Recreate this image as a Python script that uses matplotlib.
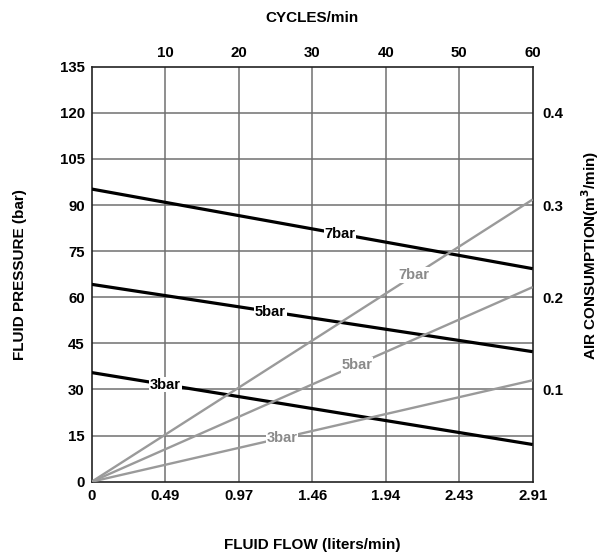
import matplotlib
matplotlib.use("Agg")
import matplotlib.pyplot as plt
import numpy as np

plt.rcParams['font.family'] = ['Liberation Sans', 'DejaVu Sans']
plt.rcParams['font.weight'] = 'bold'

# Data
cycles_ends = [0, 60]
pressure_7bar = [95.2, 69.3]
pressure_5bar = [64.2, 42.3]
pressure_3bar = [35.5, 12.1]
air_7bar = [0.0, 0.306]
air_5bar = [0.0, 0.211]
air_3bar = [0.0, 0.110]

cycle_ticks = [10, 20, 30, 40, 50, 60]
flow_tick_pos = [0, 10, 20, 30, 40, 50, 60]
flow_tick_labels = ['0', '0.49', '0.97', '1.46', '1.94', '2.43', '2.91']
pressure_ticks = [0, 15, 30, 45, 60, 75, 90, 105, 120, 135]
air_ticks = [0.1, 0.2, 0.3, 0.4]

# label positions along lines (in cycles)
pressure_label_x = {'7bar': 33.8, '5bar': 24.3, '3bar': 10.0}
air_label_x = {'7bar': 43.9, '5bar': 36.1, '3bar': 25.9}

fig = plt.figure(figsize=(6.08, 5.53), dpi=100)
ax = fig.add_axes([0.1508, 0.1289, 0.7253, 0.7505])
ax.set_xlim(0, 60)
ax.set_ylim(0, 135)

grid_c = '#707070'
for x in flow_tick_pos[1:-1]:
    ax.axvline(x, color=grid_c, lw=1.1, zorder=1)
for y in pressure_ticks[1:-1]:
    ax.axhline(y, color=grid_c, lw=1.1, zorder=1)

for s in ax.spines.values():
    s.set_linewidth(1.2)
    s.set_color('#222222')

tick_fs = 10.8
ax.set_xticks(flow_tick_pos)
ax.set_xticklabels(flow_tick_labels)
ax.set_yticks(pressure_ticks)
ax.tick_params(length=0, labelsize=tick_fs, pad=5)
for lab in ax.get_xticklabels() + ax.get_yticklabels():
    lab.set_fontweight('bold')

# Air consumption axis
ax2 = ax.twinx()
ax2.set_ylim(0, 0.45)
ax2.set_yticks(air_ticks)
ax2.set_yticklabels([f'{v:.1f}' for v in air_ticks])
ax2.tick_params(length=0, labelsize=tick_fs, pad=7)
for lab in ax2.get_yticklabels():
    lab.set_fontweight('bold')
for s in ax2.spines.values():
    s.set_visible(False)

# Top cycles axis
axt = ax.secondary_xaxis('top')
axt.set_xticks(cycle_ticks)
axt.tick_params(length=0, labelsize=tick_fs, pad=5)
for lab in axt.get_xticklabels():
    lab.set_fontweight('bold')
axt.spines['top'].set_visible(False)

gray = '#9a9a9a'
for name, vals in [('7bar', air_7bar), ('5bar', air_5bar), ('3bar', air_3bar)]:
    ax2.plot(cycles_ends, vals, color=gray, lw=1.7, zorder=2, solid_capstyle='butt')
    lx = air_label_x[name]
    ly = np.interp(lx, cycles_ends, vals)
    ax2.text(lx, ly, name, color='#8a8a8a', fontsize=10.5, fontweight='bold',
             ha='center', va='center', zorder=4,
             bbox=dict(facecolor='white', edgecolor='none', pad=0.6))

for name, vals in [('7bar', pressure_7bar), ('5bar', pressure_5bar), ('3bar', pressure_3bar)]:
    ax.plot(cycles_ends, vals, color='black', lw=2.3, zorder=3, solid_capstyle='butt')
    lx = pressure_label_x[name]
    ly = np.interp(lx, cycles_ends, vals)
    ax2.text(lx, ly / 300.0, name, color='black', fontsize=10.5, fontweight='bold',
             ha='center', va='center', zorder=5,
             bbox=dict(facecolor='white', edgecolor='none', pad=0.6))

title_fs = 11
fig.text(312 / 608, 1 - 18 / 553, 'CYCLES/min', ha='center', va='center',
         fontsize=title_fs, fontweight='bold')
fig.text(312 / 608, 1 - 545 / 553, 'FLUID FLOW (liters/min)', ha='center', va='center',
         fontsize=title_fs, fontweight='bold')
fig.text(20 / 608, 1 - 275 / 553, 'FLUID PRESSURE (bar)', ha='center', va='center',
         rotation=90, fontsize=title_fs, fontweight='bold')
fig.text(590 / 608, 1 - 255 / 553, 'AIR CONSUMPTION(m$^3$/min)', ha='center', va='center',
         rotation=90, fontsize=title_fs, fontweight='bold')

fig.savefig('out.png', dpi=100)
